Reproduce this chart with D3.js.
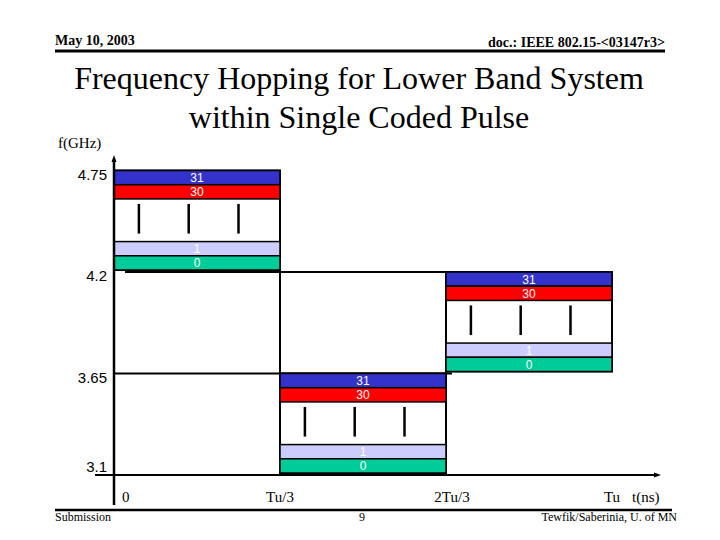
<!DOCTYPE html>
<html>
<head>
<meta charset="utf-8">
<script src="https://cdn.jsdelivr.net/npm/d3@7"></script>
<style>
  html, body { margin: 0; padding: 0; background: #fff; }
  svg { display: block; }
</style>
</head>
<body>
<script>
// ---------- data ----------
const freqTicks = [4.75, 4.2, 3.65, 3.1];
const freqTickLabels = ["4.75", "4.2", "3.65", "3.1"];
const timeTicks = [0, 1 / 3, 2 / 3, 1];
const timeTickLabels = ["0", "Tu/3", "2Tu/3", "Tu"];
const hopStart = [0, 1 / 3, 2 / 3];
const hopEnd = [1 / 3, 2 / 3, 1];
const hopFreqLow = [4.2, 3.1, 3.65];
const hopFreqHigh = [4.75, 3.65, 4.2];
const subbandLabels = ["31", "30", "1", "0"];
const subbandColors = ["#3333cc", "#ff0000", "#ccccff", "#00cc99"];
const slotOrder = ["31", "30", "gapA", "gapB", "gapC", "1", "0"];
const dashFractions = [0.15, 0.45, 0.75];

// ---------- setup ----------
const W = 720, H = 540;
const svg = d3.select("body").append("svg").attr("width", W).attr("height", H);
const serif = "'Liberation Serif', 'Times New Roman', serif";
const sans = "'Liberation Sans', Arial, sans-serif";

const x = d3.scaleLinear().domain([0, 1]).range([114, 612]);
const y = d3.scaleLinear().domain([3.1, 4.75]).range([475, 170.5]);

// ---------- header / footer ----------
svg.append("text").attr("x", 55).attr("y", 45).attr("font-family", serif)
  .attr("font-weight", "bold").attr("font-size", 14).text("May 10, 2003");
svg.append("text").attr("x", 665).attr("y", 47).attr("text-anchor", "end").attr("font-family", serif)
  .attr("font-weight", "bold").attr("font-size", 14).text("doc.: IEEE 802.15-<03147r3>");
svg.append("line").attr("x1", 55).attr("x2", 665).attr("y1", 51).attr("y2", 51)
  .attr("stroke", "#000").attr("stroke-width", 3);

svg.append("text").attr("x", 359).attr("y", 89).attr("text-anchor", "middle").attr("font-family", serif)
  .attr("font-size", 32).text("Frequency Hopping for Lower Band System");
svg.append("text").attr("x", 359).attr("y", 128).attr("text-anchor", "middle").attr("font-family", serif)
  .attr("font-size", 32).text("within Single Coded Pulse");

svg.append("line").attr("x1", 55).attr("x2", 672).attr("y1", 510).attr("y2", 510)
  .attr("stroke", "#000").attr("stroke-width", 2.5);
svg.append("text").attr("x", 55).attr("y", 521).attr("font-family", serif)
  .attr("font-size", 12).text("Submission");
svg.append("text").attr("x", 362).attr("y", 521).attr("text-anchor", "middle").attr("font-family", serif)
  .attr("font-size", 12).text("9");
svg.append("text").attr("x", 677).attr("y", 521).attr("text-anchor", "end").attr("font-family", serif)
  .attr("font-size", 12).text("Tewfik/Saberinia, U. of MN");

// ---------- hop connection lines ----------
const g = svg.append("g").attr("stroke", "#000").attr("stroke-width", 2).attr("fill", "none");
g.append("line").attr("x1", x(0) + 11).attr("x2", x(2 / 3)).attr("y1", y(4.2)).attr("y2", y(4.2));
g.append("line").attr("x1", x(0)).attr("x2", x(2 / 3) + 6).attr("y1", y(3.65)).attr("y2", y(3.65));
g.append("line").attr("x1", x(1 / 3)).attr("x2", x(1 / 3)).attr("y1", y(4.75)).attr("y2", y(3.65));

// ---------- hop boxes ----------
const hops = hopStart.map((s, i) => ({ t0: s, t1: hopEnd[i], lo: hopFreqLow[i], hi: hopFreqHigh[i] }));

hops.forEach(h => {
  const x0 = x(h.t0), x1 = x(h.t1);
  const yTop = y(h.hi), yBot = y(h.lo) - 2;
  const slot = d3.scaleBand().domain(slotOrder).range([yTop, yBot]).padding(0);
  const hg = svg.append("g");
  hg.append("rect").attr("x", x0).attr("y", yTop).attr("width", x1 - x0).attr("height", yBot - yTop)
    .attr("fill", "#fff").attr("stroke", "#000").attr("stroke-width", 2);
  hg.selectAll("rect.sb").data(subbandLabels).join("rect").attr("class", "sb")
    .attr("x", x0).attr("width", x1 - x0)
    .attr("y", d => slot(d)).attr("height", slot.bandwidth())
    .attr("fill", (d, i) => subbandColors[i]).attr("stroke", "#000").attr("stroke-width", 1.5);
  hg.selectAll("text.sb").data(subbandLabels).join("text").attr("class", "sb")
    .attr("x", (x0 + x1) / 2).attr("y", d => slot(d) + slot.bandwidth() / 2 + 4.5)
    .attr("text-anchor", "middle").attr("fill", "#fff").attr("font-family", sans)
    .attr("font-size", 12).text(d => d);
  const gapTop = slot("gapA"), gapBot = slot("gapC") + slot.bandwidth();
  hg.selectAll("line.dash").data(dashFractions).join("line").attr("class", "dash")
    .attr("x1", f => x0 + f * (x1 - x0)).attr("x2", f => x0 + f * (x1 - x0))
    .attr("y1", gapTop + 5).attr("y2", gapBot - 8)
    .attr("stroke", "#000").attr("stroke-width", 2.5);
});

// ---------- axes ----------
const ax = svg.append("g");
ax.append("line").attr("x1", x(0)).attr("x2", x(0)).attr("y1", 160).attr("y2", 505)
  .attr("stroke", "#000").attr("stroke-width", 2.5);
ax.append("path").attr("d", `M${x(0)},155 L${x(0) - 2.5},162 L${x(0) + 2.5},162 Z`).attr("fill", "#000");
ax.append("line").attr("x1", 95).attr("x2", 656).attr("y1", y(3.1)).attr("y2", y(3.1))
  .attr("stroke", "#000").attr("stroke-width", 2);
ax.append("path").attr("d", `M661,${y(3.1)} L654,${y(3.1) - 2.5} L654,${y(3.1) + 2.5} Z`).attr("fill", "#000");

svg.append("text").attr("x", 58).attr("y", 148).attr("font-family", serif).attr("font-size", 15).text("f(GHz)");
svg.selectAll("text.ytick").data(freqTicks).join("text").attr("class", "ytick")
  .attr("x", 107).attr("y", (d, i) => y(d) + (i === freqTicks.length - 1 ? -3 : 9))
  .attr("text-anchor", "end").attr("font-family", sans).attr("font-size", 15)
  .text((d, i) => freqTickLabels[i]);

svg.selectAll("text.xtick").data(timeTicks).join("text").attr("class", "xtick")
  .attr("x", (d, i) => i === 0 ? x(d) + 8 : x(d) + (i === 2 ? 6 : 0)).attr("y", 502)
  .attr("text-anchor", (d, i) => i === 0 ? "start" : "middle")
  .attr("font-family", serif).attr("font-size", 15)
  .text((d, i) => timeTickLabels[i]);
svg.append("text").attr("x", 632).attr("y", 502).attr("font-family", serif).attr("font-size", 15).text("t(ns)");
</script>
</body>
</html>
